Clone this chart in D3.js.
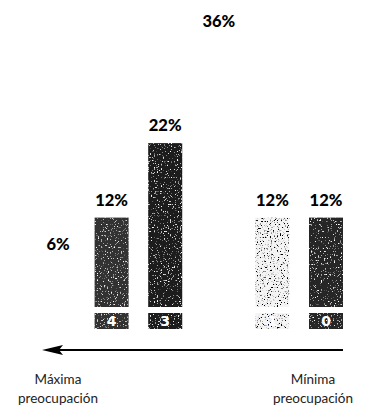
<!DOCTYPE html>
<html>
<head>
<meta charset="utf-8">
<script src="https://cdn.jsdelivr.net/npm/d3@7/dist/d3.min.js"></script>
<style>
  html, body { margin: 0; padding: 0; background: #fff; }
  svg { display: block; }
</style>
</head>
<body>
<div id="chart"></div>
<script>
// Nivel de preocupación (5 = máxima, 0 = mínima) y porcentaje de respuestas
const categories = ["5", "4", "3", "2", "1", "0"];
const values = [6, 12, 22, 36, 12, 12];
const valueLabels = ["6%", "12%", "22%", "36%", "12%", "12%"];
const leftCaption = ["Máxima", "preocupación"];
const rightCaption = ["Mínima", "preocupación"];

const W = 369, H = 409;
const baseY = 307;

const svg = d3.select("#chart").append("svg")
  .attr("width", W).attr("height", H);

// Granulado de impresión: motas claras sobre barras oscuras, motas oscuras sobre la clara
const defs = svg.append("defs");
function grain(id, seed, rgb, k, b) {
  const f = defs.append("filter").attr("id", id)
    .attr("x", 0).attr("y", 0).attr("width", "100%").attr("height", "100%");
  f.append("feTurbulence").attr("type", "fractalNoise")
    .attr("baseFrequency", 0.7).attr("numOctaves", 2).attr("seed", seed).attr("result", "noise");
  f.append("feColorMatrix").attr("in", "noise").attr("type", "matrix")
    .attr("values", `0 0 0 0 ${rgb}  0 0 0 0 ${rgb}  0 0 0 0 ${rgb}  ${k} 0 0 0 ${b}`)
    .attr("result", "specks");
  f.append("feComposite").attr("in", "specks").attr("in2", "SourceGraphic")
    .attr("operator", "in").attr("result", "clipped");
  const m = f.append("feMerge");
  m.append("feMergeNode").attr("in", "SourceGraphic");
  m.append("feMergeNode").attr("in", "clipped");
}
grain("grainLight", 4, 1, 6, -3.75);
grain("grainDark", 9, 0, 7, -4.0);

const x = d3.scalePoint().domain(categories).range([58, 326]);
const y = d3.scaleLinear().domain([0, 40]).range([baseY, baseY - 40 * 7.45]);
const barW = 34;

const fill = d3.scaleOrdinal(categories,
  ["#ffffff", "#303030", "#1c1c1c", "#ffffff", "#f4f4f4", "#262626"]);
const grainOf = d3.scaleOrdinal(categories,
  [null, "grainLight", "grainLight", null, "grainDark", "grainLight"]);

const data = categories.map((c, i) => ({ c, v: values[i], label: valueLabels[i] }));

// Barras
svg.append("g").selectAll("rect").data(data).join("rect")
  .attr("x", d => x(d.c) - barW / 2)
  .attr("y", d => y(d.v))
  .attr("width", barW)
  .attr("height", d => y(0) - y(d.v))
  .attr("fill", d => fill(d.c))
  .attr("filter", d => grainOf(d.c) ? `url(#${grainOf(d.c)})` : null);

// Porcentajes sobre cada barra
svg.append("g").selectAll("text").data(data).join("text")
  .attr("x", d => x(d.c))
  .attr("y", d => y(d.v) - 12)
  .attr("text-anchor", "middle")
  .attr("font-family", "Lato, 'Noto Sans', sans-serif")
  .attr("font-weight", 900)
  .attr("font-size", 16.5)
  .attr("fill", "#000")
  .text(d => d.label);

// Casillas con el nivel de cada barra
const boxY = baseY + 6, boxH = 16;
const boxes = svg.append("g").selectAll("g").data(data).join("g");
boxes.append("rect")
  .attr("x", d => x(d.c) - barW / 2)
  .attr("y", boxY)
  .attr("width", barW)
  .attr("height", boxH)
  .attr("fill", d => fill(d.c))
  .attr("filter", d => grainOf(d.c) ? `url(#${grainOf(d.c)})` : null);
boxes.append("text")
  .attr("x", d => x(d.c))
  .attr("y", boxY + boxH / 2 + 5)
  .attr("text-anchor", "middle")
  .attr("font-family", "'DejaVu Sans', sans-serif")
  .attr("font-weight", 700)
  .attr("font-size", 14)
  .attr("fill", d => fill(d.c) === "#ffffff" || fill(d.c) === "#f4f4f4" ? "#fff" : "#fff")
  .text(d => d.c);

// Flecha de máxima a mínima preocupación
const arrowY = 350;
const x0 = x(categories[0]) - 16;
const x1 = x(categories[categories.length - 1]) + barW / 2;
svg.append("line")
  .attr("x1", x0 + 16).attr("x2", x1)
  .attr("y1", arrowY).attr("y2", arrowY)
  .attr("stroke", "#000").attr("stroke-width", 2);
svg.append("path")
  .attr("d", d3.line()([[x0, arrowY], [x0 + 21, arrowY - 5], [x0 + 17, arrowY], [x0 + 21, arrowY + 5]]) + "Z")
  .attr("fill", "#000");

// Rótulos de los extremos
function caption(lines, cx) {
  const t = svg.append("text")
    .attr("text-anchor", "middle")
    .attr("font-family", "Lato, 'Noto Sans', sans-serif")
    .attr("font-size", 13.5)
    .attr("fill", "#222");
  lines.forEach((s, i) => {
    t.append("tspan").attr("x", cx).attr("y", 384 + i * 19).text(s);
  });
}
caption(leftCaption, x(categories[0]));
caption(rightCaption, x(categories[categories.length - 1]) - 13);
</script>
</body>
</html>
